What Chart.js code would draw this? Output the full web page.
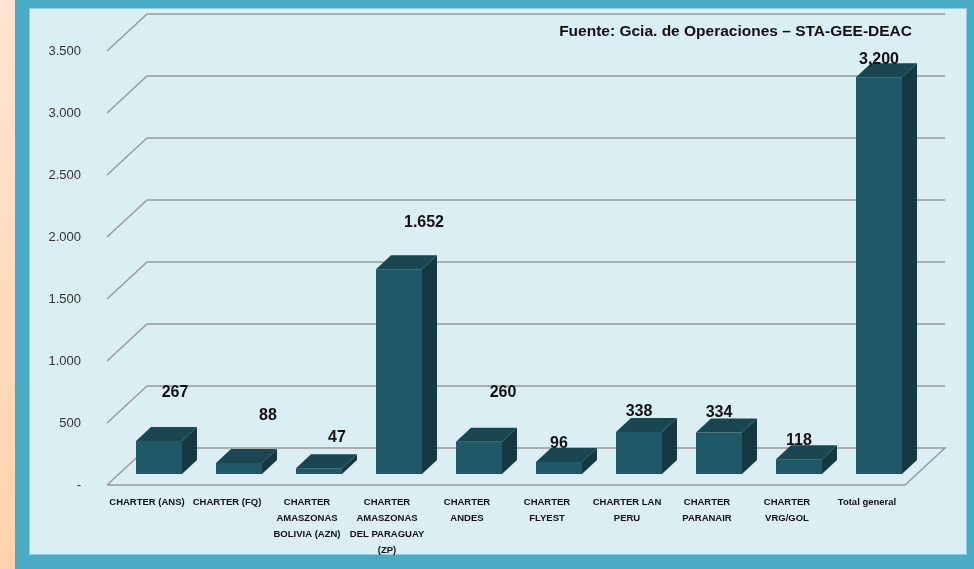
<!DOCTYPE html>
<html>
<head>
<meta charset="utf-8">
<script src="https://cdn.jsdelivr.net/npm/chart.js@4/dist/chart.umd.min.js"></script>
<style>
  html, body { margin: 0; padding: 0; }
  body {
    width: 974px; height: 569px; position: relative; overflow: hidden;
    background: linear-gradient(#ffe4d3, #fdd3ae);
  }
  #marco { position: absolute; left: 15px; top: 0; width: 959px; height: 569px; background: #4aabc6; }
  #panel {
    position: absolute; left: 29px; top: 8px; width: 936px; height: 545px;
    background: #dbeef4; border: 1px solid #8ccfe0;
  }
  #grafico { position: absolute; left: 0; top: 0; }
</style>
</head>
<body>
<div id="marco"></div>
<div id="panel"></div>
<canvas id="grafico" width="974" height="569"></canvas>
<script>
// Datos del grafico (vuelos charter)
const categorias = [
  ['CHARTER (ANS)'],
  ['CHARTER (FQ)'],
  ['CHARTER', 'AMASZONAS', 'BOLIVIA (AZN)'],
  ['CHARTER', 'AMASZONAS', 'DEL PARAGUAY', '(ZP)'],
  ['CHARTER', 'ANDES'],
  ['CHARTER', 'FLYEST'],
  ['CHARTER LAN', 'PERU'],
  ['CHARTER', 'PARANAIR'],
  ['CHARTER', 'VRG/GOL'],
  ['Total general']
];
const valores = [267, 88, 47, 1652, 260, 96, 338, 334, 118, 3200];
const ticksY = [0, 500, 1000, 1500, 2000, 2500, 3000, 3500];
const fuente = 'Fuente: Gcia. de Operaciones – STA-GEE-DEAC';

// Estilo
const colorFrente = '#1f5866';
const colorTapa = '#1a4651';
const colorLado = '#143942';
const colorGrilla = '#9a9a9a';
const fondoDx = 40, fondoDy = -37;   // profundidad de la pared/piso
const frenteDy = 11;                 // plano frontal respecto a las barras
const barraDx = 15, barraDy = -14;   // profundidad de cada barra
// desplazamiento manual de las etiquetas de valor (como en el original)
const ajusteEtiquetas = [[16, -48], [29, -47], [18, -31], [25, -47], [24, -49],
                         [0, -19], [0, -20], [0, -20], [0, -19], [0, -18]];

const fmtMiles = (v, sep) => String(v).replace(/\B(?=(\d{3})+(?!\d))/g, sep);

// Plugin: pared, piso y caras 3D de las barras
const efecto3D = {
  id: 'efecto3D',
  beforeDatasetsDraw(chart) {
    const ctx = chart.ctx;
    const y = chart.scales.y;
    const area = chart.chartArea;
    const xIzq = area.left - 12;            // esquina frontal izquierda
    const xDer = area.right - 14;           // esquina frontal derecha del piso
    ctx.save();
    ctx.strokeStyle = colorGrilla;
    ctx.lineWidth = 1.5;
    ticksY.forEach(v => {
      const yf = y.getPixelForValue(v) + frenteDy;
      ctx.beginPath();
      ctx.moveTo(xIzq, yf);
      ctx.lineTo(xIzq + fondoDx, yf + fondoDy);
      ctx.lineTo(xDer + fondoDx, yf + fondoDy);
      if (v === 0) {
        ctx.lineTo(xDer, yf);
        ctx.lineTo(xIzq, yf);
      }
      ctx.stroke();
    });
    ctx.restore();
  },
  afterDatasetsDraw(chart) {
    const ctx = chart.ctx;
    const meta = chart.getDatasetMeta(0);
    ctx.save();
    meta.data.forEach((bar, i) => {
      const x1 = bar.x - bar.width / 2, x2 = bar.x + bar.width / 2;
      const top = bar.y, base = bar.base;
      ctx.fillStyle = colorTapa;
      ctx.beginPath();
      ctx.moveTo(x1, top); ctx.lineTo(x2, top);
      ctx.lineTo(x2 + barraDx, top + barraDy); ctx.lineTo(x1 + barraDx, top + barraDy);
      ctx.closePath(); ctx.fill();
      ctx.fillStyle = colorLado;
      ctx.beginPath();
      ctx.moveTo(x2, top); ctx.lineTo(x2 + barraDx, top + barraDy);
      ctx.lineTo(x2 + barraDx, base + barraDy); ctx.lineTo(x2, base);
      ctx.closePath(); ctx.fill();
    });
    // etiquetas de valor
    ctx.fillStyle = '#111';
    ctx.font = "bold 16px 'Liberation Sans'";
    ctx.textAlign = 'center';
    ctx.textBaseline = 'middle';
    meta.data.forEach((bar, i) => {
      const sep = i === valores.length - 1 ? ',' : '.';
      const [dx, dy] = ajusteEtiquetas[i];
      ctx.fillText(fmtMiles(valores[i], sep), bar.x + dx, bar.y + dy);
    });
    // fuente
    ctx.font = "bold 15.5px 'Liberation Sans'";
    ctx.textAlign = 'right';
    ctx.fillText(fuente, 912, 32);
    ctx.restore();
  }
};

const ctx = document.getElementById('grafico').getContext('2d');
new Chart(ctx, {
  type: 'bar',
  data: {
    labels: categorias,
    datasets: [{
      data: valores,
      backgroundColor: colorFrente,
      borderWidth: 0,
      barPercentage: 0.575,
      categoryPercentage: 1
    }]
  },
  options: {
    responsive: false,
    animation: false,
    layout: { padding: { top: 40, right: 55, left: 0, bottom: 0 } },
    plugins: { legend: { display: false }, tooltip: { enabled: false } },
    scales: {
      x: {
        grid: { display: false, drawTicks: false },
        border: { display: false },
        afterFit: s => { s.height = 95; },
        ticks: {
          autoSkip: false, maxRotation: 0, minRotation: 0,
          padding: 20, labelOffset: -12,
          color: '#111',
          font: { family: "'Liberation Sans'", size: 9.5, weight: 'bold', lineHeight: 1.7 }
        }
      },
      y: {
        min: 0, max: 3500,
        grid: { display: false, drawTicks: false },
        border: { display: false },
        afterFit: s => { s.width = 119; s.paddingTop = 0; s.paddingBottom = 0; },
        afterBuildTicks: s => { s.ticks = ticksY.map(v => ({ value: v })); },
        ticks: {
          padding: 38, labelOffset: frenteDy,
          color: '#333',
          font: { family: "'Liberation Sans'", size: 13 },
          callback: v => v === 0 ? '-' : fmtMiles(v, '.')
        }
      }
    }
  },
  plugins: [efecto3D]
});
</script>
</body>
</html>
